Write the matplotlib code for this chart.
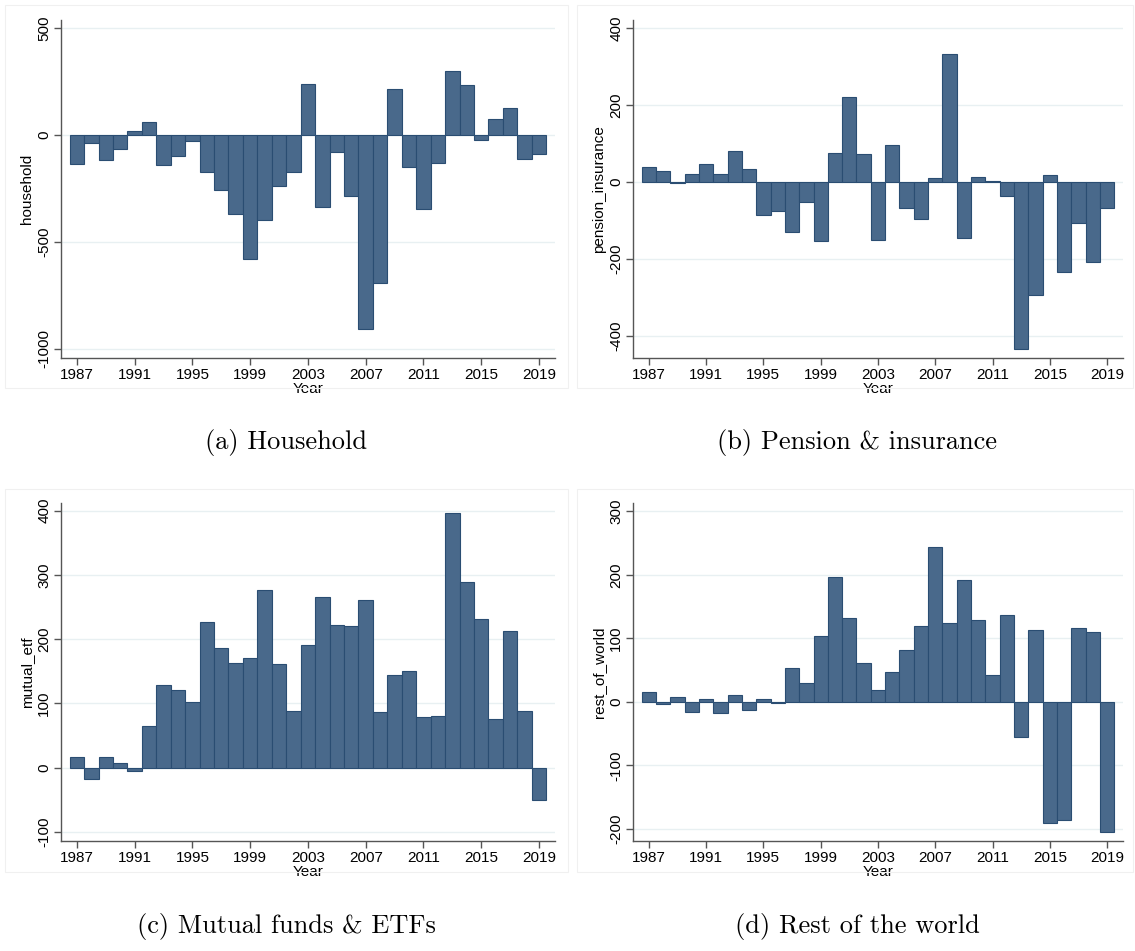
import numpy as np
import matplotlib.pyplot as plt
from matplotlib.patches import Rectangle

years = list(range(1987, 2020))

household = [-134, -40, -115, -67, 20, 62, -141, -98, -30, -171, -259, -368, -578,
             -398, -239, -175, 238, -337, -79, -284, -907, -691, 216, -149, -345,
             -132, 298, 234, -26, 73, 127, -113, -89]

pension_insurance = [39, 29, -3, 22, 48, 22, 80, 35, -86, -75, -131, -53, -152,
                     75, 222, 73, -150, 96, -68, -96, 10, 332, -145, 14, 2,
                     -37, -433, -293, 17, -235, -106, -209, -67]

mutual_etf = [16, -18, 16, 8, -5, 65, 129, 121, 102, 226, 186, 163, 170,
              276, 162, 88, 191, 265, 222, 220, 261, 87, 145, 150, 79,
              80, 397, 289, 232, 76, 213, 89, -51]

rest_of_world = [15, -3, 8, -16, 4, -17, 10, -13, 5, -2, 53, 29, 104,
                 196, 132, 61, 18, 47, 82, 119, 243, 124, 192, 129, 43,
                 136, -56, 113, -191, -186, 116, 110, -205]

xticks = [1987, 1991, 1995, 1999, 2003, 2007, 2011, 2015, 2019]

panels = [
    # (series, ylabel, yticks, ylim, caption, axes rect, frame rect)
    (household, 'household', [500, 0, -500, -1000], (-1042, 537),
     '(a) Household', [0.0537, 0.6236, 0.4352, 0.3554], [0.004, 0.592, 0.496, 0.403]),
    (pension_insurance, 'pension_insurance', [400, 200, 0, -200, -400], (-457, 421),
     '(b) Pension & insurance', [0.5577, 0.6236, 0.4317, 0.3554], [0.508, 0.592, 0.490, 0.403]),
    (mutual_etf, 'mutual_etf', [400, 300, 200, 100, 0, -100], (-114, 412),
     '(c) Mutual funds & ETFs', [0.0537, 0.1157, 0.4352, 0.3554], [0.004, 0.083, 0.496, 0.403]),
    (rest_of_world, 'rest_of_world', [300, 200, 100, 0, -100, -200], (-219, 313),
     '(d) Rest of the world', [0.5577, 0.1157, 0.4317, 0.3554], [0.508, 0.083, 0.490, 0.403]),
]

caption_pos = [(286, 443), (857, 443), (286, 927), (857, 927)]

fig = plt.figure(figsize=(11.35, 9.51), dpi=100)
fig.patch.set_facecolor('white')

tick_font = 'Liberation Sans'
fs = 11

for (vals, ylab, yt, ylim, cap, rect, frame), (cx, cy) in zip(panels, caption_pos):
    # faint outline of each graph region
    fig.patches.append(Rectangle((frame[0], frame[1]), frame[2], frame[3],
                                 transform=fig.transFigure, fill=False,
                                 edgecolor='#f0f0f0', linewidth=0.8))

    ax = fig.add_axes(rect)
    ax.bar(years, vals, width=1.0, color='#49698b', edgecolor='#2a4d72',
           linewidth=0.8, zorder=3)
    ax.set_xlim(1985.9, 2020.1)
    ax.set_ylim(*ylim)
    ax.set_xticks(xticks)
    ax.set_xticklabels([str(x) for x in xticks], fontsize=fs, family=tick_font)
    ax.set_yticks(yt)
    ax.set_yticklabels([str(v) for v in yt], fontsize=fs, family=tick_font,
                       rotation=90, va='center')
    ax.set_ylabel(ylab, fontsize=fs, family=tick_font, labelpad=2)
    ax.set_xlabel('Year', fontsize=fs, family=tick_font, labelpad=0)
    ax.grid(axis='y', color='#e8f0f2', linewidth=1.0, zorder=0)
    ax.set_axisbelow(True)
    for side in ['top', 'right']:
        ax.spines[side].set_visible(False)
    for side in ['left', 'bottom']:
        ax.spines[side].set_color('#555555')
        ax.spines[side].set_linewidth(1.0)
    ax.tick_params(axis='both', direction='out', length=5, width=1.0,
                   color='#555555', pad=2)

    fig.text(cx / 1135, 1 - cy / 951, cap, ha='center', va='center',
             fontsize=19, family='cmr10')

fig.savefig('out.png', dpi=100, facecolor='white')
